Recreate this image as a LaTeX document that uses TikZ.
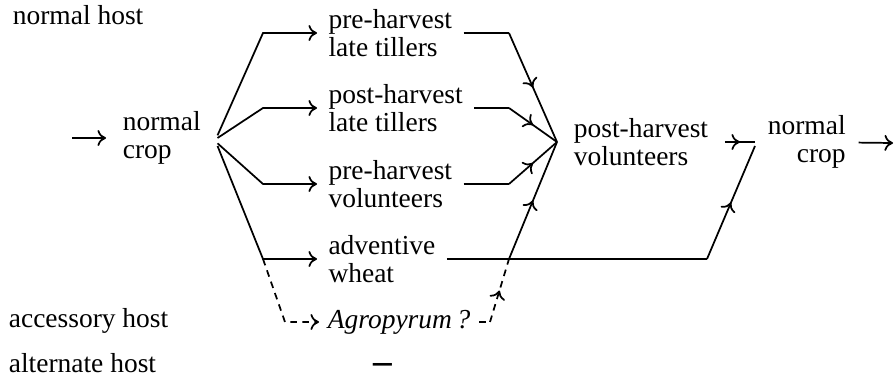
\documentclass[tikz,border=0pt]{standalone}
\usepackage{fontspec}
\setmainfont{Liberation Serif}
\usetikzlibrary{arrows.meta, decorations.markings}
\begin{document}
\begin{tikzpicture}[x=0.375pt, y=-0.375pt, line width=0.65pt,
        >={To[length=3.2pt, width=6pt]},
        font=\fontsize{10.3}{10.4}\selectfont,
        lbl/.style={inner sep=0pt, anchor=base west},
        stage/.style={align=left, anchor=west, inner xsep=4pt, inner ysep=0pt},
        hub/.style={align=left, anchor=west, inner xsep=6pt, inner ysep=0pt},
        midarrow/.style={postaction={decorate}, decoration={markings, mark=at position 0.5 with {\arrow{>}}}},
        guess/.style={dash pattern=on 2.5pt off 2pt}]
        \useasboundingbox (0,0) rectangle (894,381);

        % host rows
        \node[lbl] (normal) at (12,25) {normal host};
        \node[lbl] (accessory) at (8,328) {accessory host};
        \node[lbl] (alternate) at (8,373) {alternate host};

        \coordinate (in) at (72,138);
        \coordinate (out) at (893,143);
        \coordinate (bendL) at (263,0);
        \coordinate (dipL) at (285,0);
        \coordinate (bendR) at (509,0);
        \coordinate (dipR) at (490,0);
        \coordinate (turn) at (707,0);

        \node[hub] (crop0) at (106,138) {normal\\crop};
        \node[stage] (pre1) at (317,33) {pre-harvest\\late tillers};
        \node[stage] (post1) at (317,108) {post-harvest\\late tillers};
        \node[stage] (pre2) at (317,184) {pre-harvest\\volunteers};
        \node[stage] (adv) at (317,259) {adventive\\wheat};
        \node[stage, inner xsep=3pt] (agro) at (319,322) {\textit{Agropyrum\,?}};
        \node[inner sep=0pt] (nohost) at (383,368) {\fontsize{14}{14}\selectfont\textbf{--}};
        \node[hub] (pv) at (557,142) {post-harvest\\volunteers};
        \node[align=right, anchor=west, inner xsep=4.5pt, inner ysep=0pt] (crop1) at (755,142) {normal\\crop};
        \coordinate (cross) at (bendR |- adv.east);

        % normal crop to the stages
        \draw[->] (in) -- (crop0);
        \draw[->] ([yshift=1pt]crop0.east) -- (bendL |- pre1.west) -- (pre1.west);
        \draw[->] (crop0.east) -- (bendL |- post1.west) -- (post1.west);
        \draw[->] ([yshift=-2pt]crop0.east) -- (bendL |- pre2.west) -- (pre2.west);
        \draw[->] ([yshift=-3pt]crop0.east) -- (bendL |- adv.west) -- (adv.west);
        \draw[->, guess] (bendL |- adv.west) -- (dipL |- agro.west) -- (agro.west);

        % stages to post-harvest volunteers
        \draw (pre1.east) -- (bendR |- pre1.east);
        \draw[midarrow] (bendR |- pre1.east) -- (pv.west);
        \draw (post1.east) -- (bendR |- post1.east);
        \draw[midarrow] (bendR |- post1.east) -- (pv.west);
        \draw (pre2.east) -- (bendR |- pre2.east);
        \draw[midarrow] (bendR |- pre2.east) -- (pv.west);
        \draw (adv.east) -- (turn |- adv.east);
        \draw[midarrow] (cross) -- (pv.west);
        \draw[guess] (agro.east) -- (dipR |- agro.east);
        \draw[guess, midarrow] (dipR |- agro.east) -- (cross);

        % into the next crop
        \draw[midarrow] (pv) -- (crop1.west);
        \draw[midarrow] (turn |- adv.east) -- ([yshift=-1.5pt]crop1.west);
        \draw[->] (crop1) -- (out);
    \end{tikzpicture}
\end{document}
